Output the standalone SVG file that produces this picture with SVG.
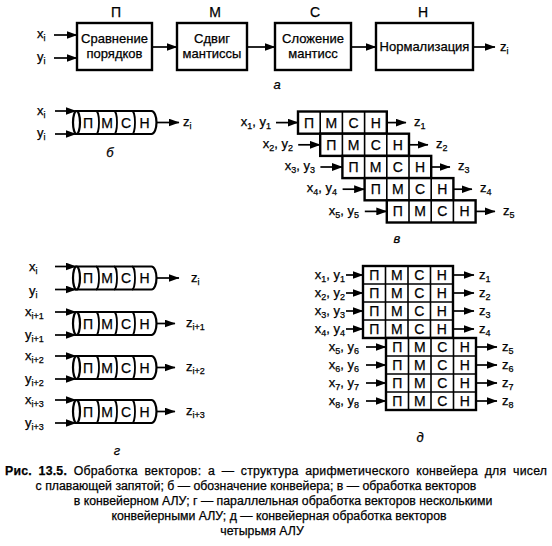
<svg xmlns="http://www.w3.org/2000/svg" width="552" height="546" viewBox="0 0 552 546">
<defs>
<marker id="ah" markerWidth="11" markerHeight="8" refX="10.5" refY="4" orient="auto" markerUnits="userSpaceOnUse"><path d="M0,0 L11,4 L0,8 Z" fill="#000"/></marker>
<style>
text{font-family:"Liberation Sans",Arial,sans-serif;font-size:13px;fill:#000;stroke:#000;stroke-width:0.25}
.c{text-anchor:middle}
.e{text-anchor:end}
.st{font-size:14px;text-anchor:middle}
.sub{font-size:9px}
.box{fill:#fff;stroke:#000;stroke-width:2.4}
.cyl{fill:#fff;stroke:#000;stroke-width:2.2}
.dv{fill:none;stroke:#000;stroke-width:1.8}
.in{stroke:#000;stroke-width:1.6;fill:none}
.arr{stroke:#000;stroke-width:1.7;fill:none;marker-end:url(#ah)}
.cap{font-size:12.3px}
.b{font-weight:bold}
.it{font-style:italic}
</style>
</defs>

<!-- a: pipeline structure -->
<g id="stage-P"><text class="st" x="116" y="17">П</text><rect class="box" x="77" y="23" width="75" height="47"/><text class="c" x="114.5" y="43">Сравнение</text><text class="c" x="114.5" y="58">порядков</text></g>
<g id="stage-M"><text class="st" x="215" y="17">М</text><rect class="box" x="177" y="23" width="70" height="47"/><text class="c" x="212" y="43">Сдвиг</text><text class="c" x="212" y="58">мантиссы</text></g>
<g id="stage-C"><text class="st" x="315" y="17">С</text><rect class="box" x="275" y="23" width="76" height="47"/><text class="c" x="313" y="43">Сложение</text><text class="c" x="313" y="58">мантисс</text></g>
<g id="stage-H"><text class="st" x="423" y="17">Н</text><rect class="box" x="376" y="23" width="97" height="47"/><text class="c" x="424.5" y="51">Нормализация</text></g>
<g id="a-labels">
<text x="37" y="38">x<tspan class="sub" dy="3">i</tspan></text>
<text x="37" y="61">y<tspan class="sub" dy="3">i</tspan></text>
<text x="500" y="51">z<tspan class="sub" dy="3">i</tspan></text>
<text x="277" y="89" class="c it">а</text>
</g>
<g id="a-connectors">
<line class="arr" x1="54" y1="35" x2="77" y2="35"/>
<line class="arr" x1="54" y1="58" x2="77" y2="58"/>
<line class="arr" x1="152" y1="47" x2="177" y2="47"/>
<line class="arr" x1="247" y1="47" x2="275" y2="47"/>
<line class="arr" x1="351" y1="47" x2="376" y2="47"/>
<line class="arr" x1="473" y1="47" x2="495" y2="47"/>
</g>

<!-- б: pipeline symbol -->
<g id="b-pipe" transform="translate(76.5,122.5)">
<path class="cyl" d="M0,-11.5 H75 A5,11.5 0 0 1 75,11.5 H0 Z"/>
<ellipse class="cyl" cx="0" cy="0" rx="3.5" ry="11.5"/>
<path class="dv" d="M19.5,-11.5 A3,11.5 0 0 1 19.5,11.5 M37.5,-11.5 A3,11.5 0 0 1 37.5,11.5 M55.5,-11.5 A3,11.5 0 0 1 55.5,11.5"/>
<text class="st" x="11.5" y="5">П</text><text class="st" x="30.5" y="5">М</text><text class="st" x="49.5" y="5">С</text><text class="st" x="68" y="5">Н</text>
</g>
<g id="b-labels">
<text x="37" y="115">x<tspan class="sub" dy="3">i</tspan></text>
<text x="37" y="137">y<tspan class="sub" dy="3">i</tspan></text>
<text x="183" y="126">z<tspan class="sub" dy="3">i</tspan></text>
<text x="110" y="157" class="c it">б</text>
</g>
<g id="b-connectors">
<line class="arr" x1="55" y1="111" x2="76" y2="111"/>
<line class="arr" x1="55" y1="134" x2="76" y2="134"/>
<line class="arr" x1="157" y1="122.5" x2="179" y2="122.5"/>
</g>

<!-- в: vector processing in pipeline ALU -->
<g id="v-row1"><rect class="box" x="298" y="111.5" width="88.8" height="22.2"/><path class="in" d="M320.2,111.5V133.7M342.4,111.5V133.7M364.6,111.5V133.7"/><text class="st" x="309.1" y="127.6">П</text><text class="st" x="331.3" y="127.6">М</text><text class="st" x="353.5" y="127.6">С</text><text class="st" x="375.7" y="127.6">Н</text></g>
<g id="v-row2"><rect class="box" x="320.2" y="133.7" width="88.8" height="22.2"/><path class="in" d="M342.4,133.7V155.9M364.6,133.7V155.9M386.8,133.7V155.9"/><text class="st" x="331.3" y="149.8">П</text><text class="st" x="353.5" y="149.8">М</text><text class="st" x="375.7" y="149.8">С</text><text class="st" x="397.9" y="149.8">Н</text></g>
<g id="v-row3"><rect class="box" x="342.4" y="155.9" width="88.8" height="22.2"/><path class="in" d="M364.6,155.9V178.1M386.8,155.9V178.1M409,155.9V178.1"/><text class="st" x="353.5" y="172">П</text><text class="st" x="375.7" y="172">М</text><text class="st" x="397.9" y="172">С</text><text class="st" x="420.1" y="172">Н</text></g>
<g id="v-row4"><rect class="box" x="364.6" y="178.1" width="88.8" height="22.2"/><path class="in" d="M386.8,178.1V200.3M409,178.1V200.3M431.2,178.1V200.3"/><text class="st" x="375.7" y="194.2">П</text><text class="st" x="397.9" y="194.2">М</text><text class="st" x="420.1" y="194.2">С</text><text class="st" x="442.3" y="194.2">Н</text></g>
<g id="v-row5"><rect class="box" x="386.8" y="200.3" width="88.8" height="22.2"/><path class="in" d="M409,200.3V222.5M431.2,200.3V222.5M453.4,200.3V222.5"/><text class="st" x="397.9" y="216.4">П</text><text class="st" x="420.1" y="216.4">М</text><text class="st" x="442.3" y="216.4">С</text><text class="st" x="464.5" y="216.4">Н</text></g>
<g id="v-labels">
<text class="e" x="271" y="126">x<tspan class="sub" dy="3">1</tspan><tspan dy="-3">, y</tspan><tspan class="sub" dy="3">1</tspan></text>
<text class="e" x="293" y="148">x<tspan class="sub" dy="3">2</tspan><tspan dy="-3">, y</tspan><tspan class="sub" dy="3">2</tspan></text>
<text class="e" x="315" y="170">x<tspan class="sub" dy="3">3</tspan><tspan dy="-3">, y</tspan><tspan class="sub" dy="3">3</tspan></text>
<text class="e" x="337" y="192">x<tspan class="sub" dy="3">4</tspan><tspan dy="-3">, y</tspan><tspan class="sub" dy="3">4</tspan></text>
<text class="e" x="359" y="215">x<tspan class="sub" dy="3">5</tspan><tspan dy="-3">, y</tspan><tspan class="sub" dy="3">5</tspan></text>
<text x="414" y="126">z<tspan class="sub" dy="3">1</tspan></text>
<text x="436" y="148">z<tspan class="sub" dy="3">2</tspan></text>
<text x="458" y="170">z<tspan class="sub" dy="3">3</tspan></text>
<text x="480" y="192">z<tspan class="sub" dy="3">4</tspan></text>
<text x="503" y="215">z<tspan class="sub" dy="3">5</tspan></text>
<text x="397" y="243" class="c it">в</text>
</g>
<g id="v-connectors">
<line class="arr" x1="276" y1="122.6" x2="298" y2="122.6"/>
<line class="arr" x1="298.2" y1="144.8" x2="320.2" y2="144.8"/>
<line class="arr" x1="320.4" y1="167" x2="342.4" y2="167"/>
<line class="arr" x1="342.6" y1="189.2" x2="364.6" y2="189.2"/>
<line class="arr" x1="364.8" y1="211.4" x2="386.8" y2="211.4"/>
<line class="arr" x1="386.8" y1="122.6" x2="406" y2="122.6"/>
<line class="arr" x1="409" y1="144.8" x2="428" y2="144.8"/>
<line class="arr" x1="431.2" y1="167" x2="450" y2="167"/>
<line class="arr" x1="453.4" y1="189.2" x2="472" y2="189.2"/>
<line class="arr" x1="475.6" y1="211.4" x2="495" y2="211.4"/>
</g>

<!-- г: parallel processing -->
<g id="g-pipe1" transform="translate(76.5,278)">
<path class="cyl" d="M0,-11.5 H75 A5,11.5 0 0 1 75,11.5 H0 Z"/>
<ellipse class="cyl" cx="0" cy="0" rx="3.5" ry="11.5"/>
<path class="dv" d="M19.5,-11.5 A3,11.5 0 0 1 19.5,11.5 M37.5,-11.5 A3,11.5 0 0 1 37.5,11.5 M55.5,-11.5 A3,11.5 0 0 1 55.5,11.5"/>
<text class="st" x="11.5" y="5">П</text><text class="st" x="30.5" y="5">М</text><text class="st" x="49.5" y="5">С</text><text class="st" x="68" y="5">Н</text>
</g>
<g id="g-pipe2" transform="translate(76.5,323.5)">
<path class="cyl" d="M0,-11.5 H75 A5,11.5 0 0 1 75,11.5 H0 Z"/>
<ellipse class="cyl" cx="0" cy="0" rx="3.5" ry="11.5"/>
<path class="dv" d="M19.5,-11.5 A3,11.5 0 0 1 19.5,11.5 M37.5,-11.5 A3,11.5 0 0 1 37.5,11.5 M55.5,-11.5 A3,11.5 0 0 1 55.5,11.5"/>
<text class="st" x="11.5" y="5">П</text><text class="st" x="30.5" y="5">М</text><text class="st" x="49.5" y="5">С</text><text class="st" x="68" y="5">Н</text>
</g>
<g id="g-pipe3" transform="translate(76.5,367.5)">
<path class="cyl" d="M0,-11.5 H75 A5,11.5 0 0 1 75,11.5 H0 Z"/>
<ellipse class="cyl" cx="0" cy="0" rx="3.5" ry="11.5"/>
<path class="dv" d="M19.5,-11.5 A3,11.5 0 0 1 19.5,11.5 M37.5,-11.5 A3,11.5 0 0 1 37.5,11.5 M55.5,-11.5 A3,11.5 0 0 1 55.5,11.5"/>
<text class="st" x="11.5" y="5">П</text><text class="st" x="30.5" y="5">М</text><text class="st" x="49.5" y="5">С</text><text class="st" x="68" y="5">Н</text>
</g>
<g id="g-pipe4" transform="translate(76.5,411.5)">
<path class="cyl" d="M0,-11.5 H75 A5,11.5 0 0 1 75,11.5 H0 Z"/>
<ellipse class="cyl" cx="0" cy="0" rx="3.5" ry="11.5"/>
<path class="dv" d="M19.5,-11.5 A3,11.5 0 0 1 19.5,11.5 M37.5,-11.5 A3,11.5 0 0 1 37.5,11.5 M55.5,-11.5 A3,11.5 0 0 1 55.5,11.5"/>
<text class="st" x="11.5" y="5">П</text><text class="st" x="30.5" y="5">М</text><text class="st" x="49.5" y="5">С</text><text class="st" x="68" y="5">Н</text>
</g>
<g id="g-labels">
<text x="29" y="271">x<tspan class="sub" dy="3">i</tspan></text>
<text x="29" y="295">y<tspan class="sub" dy="3">i</tspan></text>
<text x="25" y="316">x<tspan class="sub" dy="3">i+1</tspan></text>
<text x="25" y="339">y<tspan class="sub" dy="3">i+1</tspan></text>
<text x="25" y="360">x<tspan class="sub" dy="3">i+2</tspan></text>
<text x="25" y="383">y<tspan class="sub" dy="3">i+2</tspan></text>
<text x="25" y="404">x<tspan class="sub" dy="3">i+3</tspan></text>
<text x="25" y="427">y<tspan class="sub" dy="3">i+3</tspan></text>
<text x="191" y="282">z<tspan class="sub" dy="3">i</tspan></text>
<text x="186" y="327">z<tspan class="sub" dy="3">i+1</tspan></text>
<text x="186" y="371">z<tspan class="sub" dy="3">i+2</tspan></text>
<text x="186" y="415">z<tspan class="sub" dy="3">i+3</tspan></text>
<text x="117" y="455" class="c it">г</text>
</g>
<g id="g-connectors">
<line class="arr" x1="55" y1="266.5" x2="76" y2="266.5"/>
<line class="arr" x1="55" y1="289.5" x2="76" y2="289.5"/>
<line class="arr" x1="157" y1="278" x2="179" y2="278"/>
<line class="arr" x1="55" y1="312" x2="76" y2="312"/>
<line class="arr" x1="55" y1="335" x2="76" y2="335"/>
<line class="arr" x1="157" y1="323.5" x2="175" y2="323.5"/>
<line class="arr" x1="55" y1="356" x2="76" y2="356"/>
<line class="arr" x1="55" y1="379" x2="76" y2="379"/>
<line class="arr" x1="157" y1="367.5" x2="175" y2="367.5"/>
<line class="arr" x1="55" y1="400" x2="76" y2="400"/>
<line class="arr" x1="55" y1="423" x2="76" y2="423"/>
<line class="arr" x1="157" y1="411.5" x2="175" y2="411.5"/>
</g>

<!-- д: pipelined processing by four ALUs -->
<g id="d-upper">
<rect class="box" x="363" y="266" width="90" height="72"/>
<path class="in" d="M385.5,266V338M408,266V338M430.5,266V338M363,284H453M363,302H453M363,320H453"/>
<text class="st" x="374.3" y="280">П</text><text class="st" x="396.8" y="280">М</text><text class="st" x="419.3" y="280">С</text><text class="st" x="441.8" y="280">Н</text>
<text class="st" x="374.3" y="298">П</text><text class="st" x="396.8" y="298">М</text><text class="st" x="419.3" y="298">С</text><text class="st" x="441.8" y="298">Н</text>
<text class="st" x="374.3" y="316">П</text><text class="st" x="396.8" y="316">М</text><text class="st" x="419.3" y="316">С</text><text class="st" x="441.8" y="316">Н</text>
<text class="st" x="374.3" y="334">П</text><text class="st" x="396.8" y="334">М</text><text class="st" x="419.3" y="334">С</text><text class="st" x="441.8" y="334">Н</text>
</g>
<g id="d-lower">
<rect class="box" x="386" y="338" width="90" height="72"/>
<path class="in" d="M408.5,338V410M431,338V410M453.5,338V410M386,356H476M386,374H476M386,392H476"/>
<text class="st" x="397.3" y="352">П</text><text class="st" x="419.8" y="352">М</text><text class="st" x="442.3" y="352">С</text><text class="st" x="464.8" y="352">Н</text>
<text class="st" x="397.3" y="370">П</text><text class="st" x="419.8" y="370">М</text><text class="st" x="442.3" y="370">С</text><text class="st" x="464.8" y="370">Н</text>
<text class="st" x="397.3" y="388">П</text><text class="st" x="419.8" y="388">М</text><text class="st" x="442.3" y="388">С</text><text class="st" x="464.8" y="388">Н</text>
<text class="st" x="397.3" y="406">П</text><text class="st" x="419.8" y="406">М</text><text class="st" x="442.3" y="406">С</text><text class="st" x="464.8" y="406">Н</text>
</g>
<g id="d-labels">
<text class="e" x="345" y="279">x<tspan class="sub" dy="3">1</tspan><tspan dy="-3">, y</tspan><tspan class="sub" dy="3">1</tspan></text>
<text class="e" x="345" y="297">x<tspan class="sub" dy="3">2</tspan><tspan dy="-3">, y</tspan><tspan class="sub" dy="3">2</tspan></text>
<text class="e" x="345" y="315">x<tspan class="sub" dy="3">3</tspan><tspan dy="-3">, y</tspan><tspan class="sub" dy="3">3</tspan></text>
<text class="e" x="345" y="333">x<tspan class="sub" dy="3">4</tspan><tspan dy="-3">, y</tspan><tspan class="sub" dy="3">4</tspan></text>
<text class="e" x="359" y="351">x<tspan class="sub" dy="3">5</tspan><tspan dy="-3">, y</tspan><tspan class="sub" dy="3">6</tspan></text>
<text class="e" x="359" y="369">x<tspan class="sub" dy="3">6</tspan><tspan dy="-3">, y</tspan><tspan class="sub" dy="3">6</tspan></text>
<text class="e" x="359" y="387">x<tspan class="sub" dy="3">7</tspan><tspan dy="-3">, y</tspan><tspan class="sub" dy="3">7</tspan></text>
<text class="e" x="359" y="405">x<tspan class="sub" dy="3">8</tspan><tspan dy="-3">, y</tspan><tspan class="sub" dy="3">8</tspan></text>
<text x="479" y="279">z<tspan class="sub" dy="3">1</tspan></text>
<text x="479" y="297">z<tspan class="sub" dy="3">2</tspan></text>
<text x="479" y="315">z<tspan class="sub" dy="3">3</tspan></text>
<text x="479" y="333">z<tspan class="sub" dy="3">4</tspan></text>
<text x="502" y="351">z<tspan class="sub" dy="3">5</tspan></text>
<text x="502" y="369">z<tspan class="sub" dy="3">6</tspan></text>
<text x="502" y="387">z<tspan class="sub" dy="3">7</tspan></text>
<text x="502" y="405">z<tspan class="sub" dy="3">8</tspan></text>
<text x="420" y="442" class="c it">д</text>
</g>
<g id="d-connectors">
<line class="arr" x1="346" y1="275" x2="363" y2="275"/>
<line class="arr" x1="346" y1="293" x2="363" y2="293"/>
<line class="arr" x1="346" y1="311" x2="363" y2="311"/>
<line class="arr" x1="346" y1="329" x2="363" y2="329"/>
<line class="arr" x1="366" y1="347" x2="386" y2="347"/>
<line class="arr" x1="366" y1="365" x2="386" y2="365"/>
<line class="arr" x1="366" y1="383" x2="386" y2="383"/>
<line class="arr" x1="366" y1="401" x2="386" y2="401"/>
<line class="arr" x1="453" y1="275" x2="474" y2="275"/>
<line class="arr" x1="453" y1="293" x2="474" y2="293"/>
<line class="arr" x1="453" y1="311" x2="474" y2="311"/>
<line class="arr" x1="453" y1="329" x2="474" y2="329"/>
<line class="arr" x1="476" y1="347" x2="497" y2="347"/>
<line class="arr" x1="476" y1="365" x2="497" y2="365"/>
<line class="arr" x1="476" y1="383" x2="497" y2="383"/>
<line class="arr" x1="476" y1="401" x2="497" y2="401"/>
</g>

<!-- caption -->
<g id="caption">
<text class="cap" x="5" y="475" word-spacing="3" textLength="542" lengthAdjust="spacing"><tspan class="b">Рис. 13.5.</tspan> Обработка векторов: а — структура арифметического конвейера для чисел</text>
<text class="cap c" x="256" y="490">с плавающей запятой; б — обозначение конвейера; в — обработка векторов</text>
<text class="cap c" x="283" y="505">в конвейерном АЛУ; г — параллельная обработка векторов несколькими</text>
<text class="cap c" x="279" y="520">конвейерными АЛУ; д — конвейерная обработка векторов</text>
<text class="cap c" x="262" y="535">четырьмя АЛУ</text>
</g>
</svg>
